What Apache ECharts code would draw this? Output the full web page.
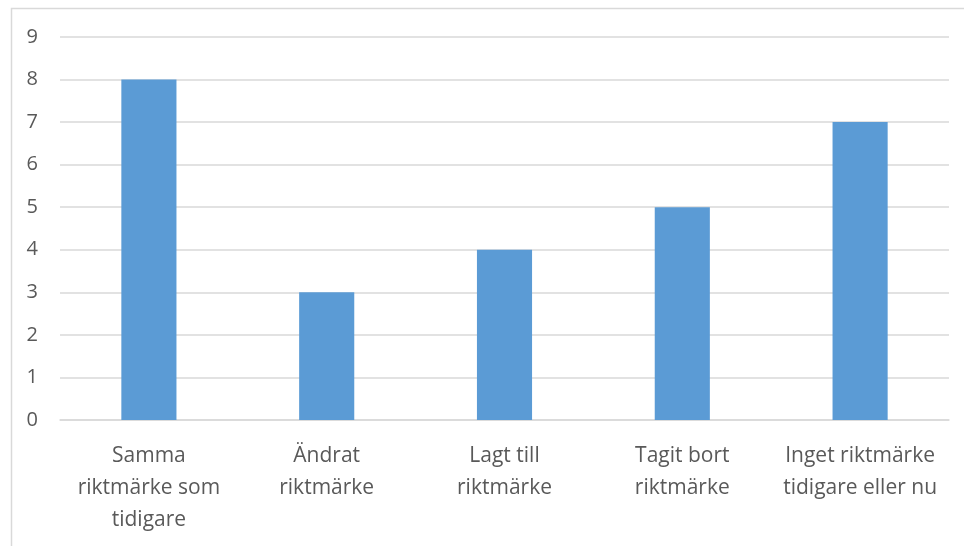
<!DOCTYPE html>
<html>
<head>
<meta charset="utf-8">
<script src="https://cdn.jsdelivr.net/npm/echarts@6/dist/echarts.min.js"></script>
<style>html,body{margin:0;padding:0;background:#fff;}#c{width:964px;height:546px;}</style>
</head>
<body>
<div id="c"></div>
<script>
const categories = ['Samma\nriktmärke som\ntidigare', 'Ändrat\nriktmärke', 'Lagt till\nriktmärke', 'Tagit bort\nriktmärke', 'Inget riktmärke\ntidigare eller nu'];
const values = [8, 3, 4, 5, 7];
const yTicks = [0, 1, 2, 3, 4, 5, 6, 7, 8, 9];

const chart = echarts.init(document.getElementById('c'), null, {renderer: 'canvas'});
chart.setOption({
  animation: false,
  backgroundColor: '#fff',
  graphic: [{
    type: 'rect', left: 9, top: 6, shape: {width: 970, height: 560},
    style: {fill: 'none', stroke: '#d9d9d9', lineWidth: 1.5}, silent: true
  }],
  grid: {left: 60, right: 15, top: 37, bottom: 126, containLabel: false},
  xAxis: {
    type: 'category', data: categories,
    axisLine: {lineStyle: {color: '#d9d9d9', width: 1.5}},
    axisTick: {show: false},
    axisLabel: {color: '#595959', fontFamily: 'Open Sans', fontSize: 21, lineHeight: 32, margin: 20, interval: 0}
  },
  yAxis: {
    type: 'value', min: yTicks[0], max: yTicks[yTicks.length - 1], interval: 1,
    axisLine: {show: false}, axisTick: {show: false},
    splitLine: {lineStyle: {color: '#d9d9d9', width: 1.5}},
    axisLabel: {color: '#595959', fontFamily: 'Open Sans', fontSize: 20, margin: 22}
  },
  series: [{
    type: 'bar', data: values, barWidth: '31%',
    itemStyle: {color: '#5b9bd5'}
  }]
});
</script>
</body>
</html>
